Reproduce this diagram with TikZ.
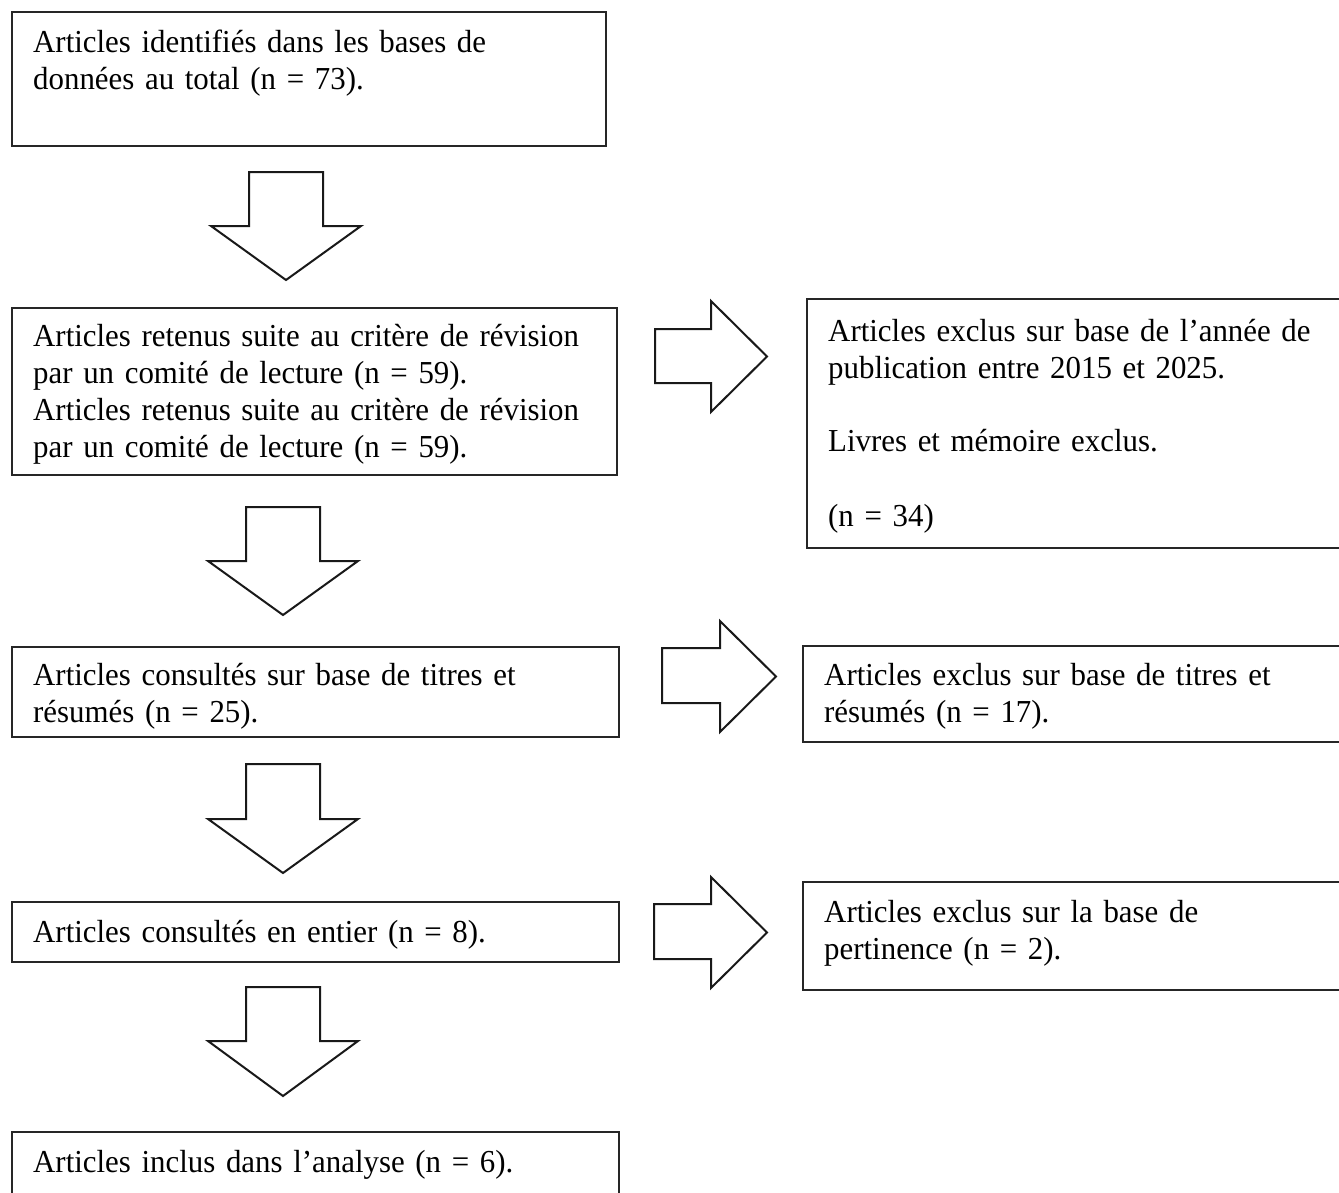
\documentclass[tikz,border=0pt]{standalone}
\usepackage{fontspec}
\setmainfont[FakeStretch=0.965,WordSpace=0.75]{Liberation Serif}
\begin{document}
\begin{tikzpicture}[x=1pt,y=-1pt,
  boxline/.style={draw=black!85, line width=1.3pt},
  blockarrow/.style={draw=black!90, line width=2pt, line join=miter, fill=white},
  txt/.style={anchor=base west, inner sep=0pt, align=left, text width=#1,
    font=\fontsize{32}{37}\selectfont}]
\useasboundingbox (0,0) rectangle (1339,1192);
\clip (0,0) rectangle (1339,1192);
% boxes
\draw[boxline] (12,12) rectangle (606,146);
\draw[boxline] (12,308) rectangle (617,475);
\draw[boxline] (807,299) rectangle (1360,548);
\draw[boxline] (12,647) rectangle (619,737);
\draw[boxline] (803,646) rectangle (1360,742);
\draw[boxline] (12,902) rectangle (619,962);
\draw[boxline] (803,882) rectangle (1360,990);
\draw[boxline] (12,1132) rectangle (619,1210);
% texts
\node[txt=570pt] (t1) at (33,52) {Articles identifiés dans les bases de\\données au total (n = 73).};
\node[txt=580pt] (t2) at (33,346) {Articles retenus suite au critère de révision\\par un comité de lecture (n = 59).\\Articles retenus suite au critère de révision\\par un comité de lecture (n = 59).};
\node[txt=520pt] (t3) at (828,341) {Articles exclus sur base de l’année de\\publication entre 2015 et 2025.\\[36.5pt]Livres et mémoire exclus.\\[38pt](n = 34)};
\node[txt=580pt] (t4) at (33,685) {Articles consultés sur base de titres et\\résumés (n = 25).};
\node[txt=520pt] (t5) at (824,685) {Articles exclus sur base de titres et\\résumés (n = 17).};
\node[txt=580pt] (t6) at (33,942) {Articles consultés en entier (n = 8).};
\node[txt=520pt] (t7) at (824,922) {Articles exclus sur la base de\\pertinence (n = 2).};
\node[txt=580pt] (t8) at (33,1172) {Articles inclus dans l’analyse (n = 6).};
% down block arrows
\newcommand{\dnarrow}[4]{% cx, top, head, tip
  \draw[blockarrow] (#1-37,#2) -- (#1+37,#2) -- (#1+37,#3) -- (#1+75,#3)
    -- (#1,#4) -- (#1-75,#3) -- (#1-37,#3) -- cycle;}
\dnarrow{286}{172}{226}{280}
\dnarrow{283}{507}{561}{615}
\dnarrow{283}{764}{819}{873}
\dnarrow{283}{987}{1041}{1096}
% right block arrows
\newcommand{\rtarrow}[6]{% left, shafttop, shaftbot, headx, headtop, headbot ; tip computed
  \draw[blockarrow] (#1,#2) -- (#4,#2) -- (#4,#5) -- (#4+56,{(#5+#6)/2})
    -- (#4,#6) -- (#4,#3) -- (#1,#3) -- cycle;}
\rtarrow{655}{329}{383}{711}{301}{412}
\rtarrow{662}{648}{703}{720}{621}{732}
\rtarrow{654}{904}{959}{711}{877}{988}
\end{tikzpicture}
\end{document}
